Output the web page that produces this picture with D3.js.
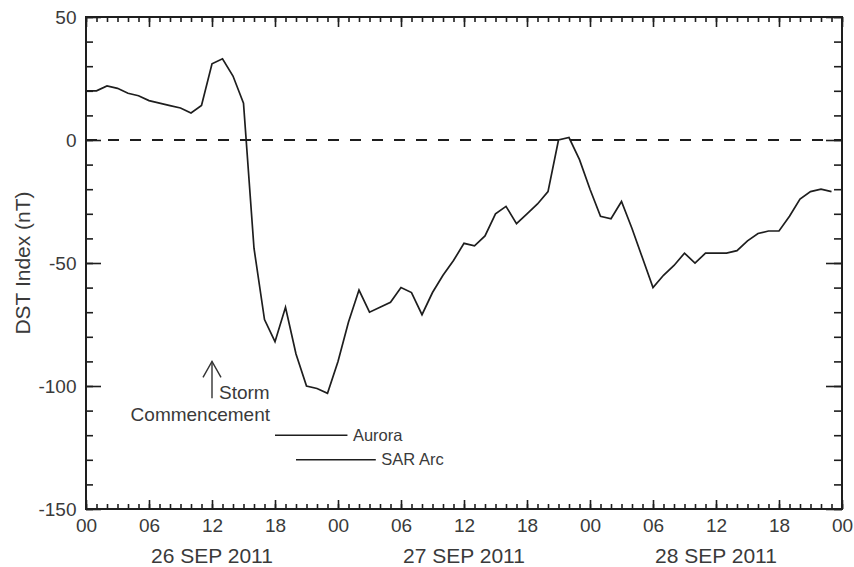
<!DOCTYPE html>
<html>
<head>
<meta charset="utf-8">
<script src="https://cdn.jsdelivr.net/npm/d3@7"></script>
<style>
  body { margin: 0; background: #fff; }
  text { font-family: "Liberation Sans", Arial, Helvetica, sans-serif; fill: #3a3a3a; }
</style>
</head>
<body>
<svg id="chart" width="854" height="567"></svg>
<script>
// Hourly Dst index, 26–28 Sep 2011 (nT), one value per hour starting 00 UT on 26 Sep
const startTime = "2011-09-26T00:00:00Z";
const endTime = "2011-09-29T00:00:00Z";
const dstValues = [
  20, 20, 22, 21, 19, 18, 16, 15, 14, 13, 11, 14,
  31, 33, 26, 15, -44, -73, -82, -68, -87, -100, -101, -103,
  -90, -74, -61, -70, -68, -66, -60, -62, -71, -62, -55, -49,
  -42, -43, -39, -30, -27, -34, -30, -26, -21, 0, 1, -8,
  -20, -31, -32, -25, -36, -48, -60, -55, -51, -46, -50, -46,
  -46, -46, -45, -41, -38, -37, -37, -31, -24, -21, -20, -21
];
const yMajorTicks = [-150, -100, -50, 0, 50];
const dayLabels = ["26 SEP 2011", "27 SEP 2011", "28 SEP 2011"];
// Observation windows, hours after 00 UT 26 Sep, drawn at the given Dst level
const windowLabels = ["Aurora", "SAR Arc"];
const windowStart = [18, 20];
const windowEnd = [24.9, 27.6];
const windowLevel = [-120, -130];
const stormHour = 12;
const stormArrow = [-105, -90];
const stormText = ["Storm", "Commencement"];

const W = 854, H = 567;
const margin = { top: 17, right: 12, bottom: 58, left: 86 };
const svg = d3.select("#chart");
const iw = W - margin.left - margin.right;
const ih = H - margin.top - margin.bottom;
const g = svg.append("g").attr("transform", `translate(${margin.left},${margin.top})`);

const t0 = new Date(startTime);
const hourTime = h => new Date(t0.getTime() + h * 3600e3);
const x = d3.scaleUtc().domain([t0, new Date(endTime)]).range([0, iw]);
const y = d3.scaleLinear().domain([-150, 50]).range([ih, 0]);

const ink = "#1e1e1e";
const tickFont = 19;

// Axis ticks (all pointing inward)
const tEnd = new Date(new Date(endTime).getTime() + 1);
const majorX = d3.utcHour.every(6).range(t0, tEnd);
const minorX = d3.utcHour.every(1).range(t0, tEnd);
const minorY = d3.range(-150, 51, 10);

function styleAxis(sel) {
  sel.select(".domain").remove();
  sel.selectAll("line").attr("stroke", ink).attr("stroke-width", 1.6);
  sel.selectAll("text").attr("font-size", tickFont).attr("fill", "#3a3a3a")
    .style("font-family", '"Liberation Sans", Arial, Helvetica, sans-serif');
}

// bottom
g.append("g").attr("transform", `translate(0,${ih})`)
  .call(d3.axisBottom(x).tickValues(minorX).tickSize(-5).tickFormat("")).call(styleAxis);
g.append("g").attr("transform", `translate(0,${ih})`)
  .call(d3.axisBottom(x).tickValues(majorX).tickSize(-9).tickPadding(9.5)
    .tickFormat(d3.utcFormat("%H"))).call(styleAxis);
// top
g.append("g")
  .call(d3.axisTop(x).tickValues(minorX).tickSize(-5).tickFormat("")).call(styleAxis);
g.append("g")
  .call(d3.axisTop(x).tickValues(majorX).tickSize(-10).tickFormat("")).call(styleAxis);
// left
g.append("g")
  .call(d3.axisLeft(y).tickValues(minorY).tickSize(-7).tickFormat("")).call(styleAxis);
g.append("g")
  .call(d3.axisLeft(y).tickValues(yMajorTicks).tickSize(-15).tickPadding(9.5)
    .tickFormat(d => String(d))).call(styleAxis);
// right
g.append("g").attr("transform", `translate(${iw},0)`)
  .call(d3.axisRight(y).tickValues(minorY).tickSize(-8).tickFormat("")).call(styleAxis);
g.append("g").attr("transform", `translate(${iw},0)`)
  .call(d3.axisRight(y).tickValues(yMajorTicks).tickSize(-16).tickFormat("")).call(styleAxis);

// Frame
g.append("rect").attr("x", 0).attr("y", 0).attr("width", iw).attr("height", ih)
  .attr("fill", "none").attr("stroke", ink).attr("stroke-width", 2);

// Day labels centred on noon of each day
g.selectAll("text.day").data(dayLabels).join("text")
  .attr("class", "day")
  .attr("x", (d, i) => x(hourTime(i * 24 + 12)))
  .attr("y", ih + 53.5)
  .attr("text-anchor", "middle")
  .attr("font-size", 21)
  .text(d => d);

// Y axis title
svg.append("text")
  .attr("transform", `translate(${30},${margin.top + ih / 2}) rotate(-90)`)
  .attr("text-anchor", "middle")
  .attr("font-size", 21)
  .text("DST Index (nT)");

// Zero reference line
g.append("line")
  .attr("x1", 0).attr("x2", iw)
  .attr("y1", y(0)).attr("y2", y(0))
  .attr("stroke", ink).attr("stroke-width", 2.2)
  .attr("stroke-dasharray", "11,11");

// Dst curve
const series = dstValues.map((v, i) => ({ t: hourTime(i), v }));
g.append("path").datum(series)
  .attr("fill", "none").attr("stroke", ink).attr("stroke-width", 1.7)
  .attr("stroke-linejoin", "miter")
  .attr("d", d3.line().x(d => x(d.t)).y(d => y(d.v)));

// Storm commencement arrow
const sx = x(hourTime(stormHour));
g.append("line")
  .attr("x1", sx).attr("x2", sx)
  .attr("y1", y(stormArrow[0])).attr("y2", y(stormArrow[1]))
  .attr("stroke", "#333").attr("stroke-width", 1.4);
g.append("path")
  .attr("d", `M${sx - 9},${y(stormArrow[1]) + 16} L${sx},${y(stormArrow[1])} L${sx + 9},${y(stormArrow[1]) + 16}`)
  .attr("fill", "none").attr("stroke", "#333").attr("stroke-width", 1.4);
g.append("text")
  .attr("x", sx + 7).attr("y", y(stormArrow[0]) + 1)
  .attr("font-size", 19)
  .text(stormText[0]);
g.append("text")
  .attr("x", sx + 58).attr("y", y(stormArrow[0]) + 22.5)
  .attr("text-anchor", "end")
  .attr("font-size", 19)
  .text(stormText[1]);

// Aurora / SAR arc observation windows
windowLabels.forEach((lab, i) => {
  const yy = y(windowLevel[i]);
  g.append("line")
    .attr("x1", x(hourTime(windowStart[i]))).attr("x2", x(hourTime(windowEnd[i])))
    .attr("y1", yy).attr("y2", yy)
    .attr("stroke", ink).attr("stroke-width", 1.6);
  g.append("text")
    .attr("x", x(hourTime(windowEnd[i])) + 5.5)
    .attr("y", yy + 5.5)
    .attr("font-size", 16.5)
    .text(lab);
});
</script>
</body>
</html>
